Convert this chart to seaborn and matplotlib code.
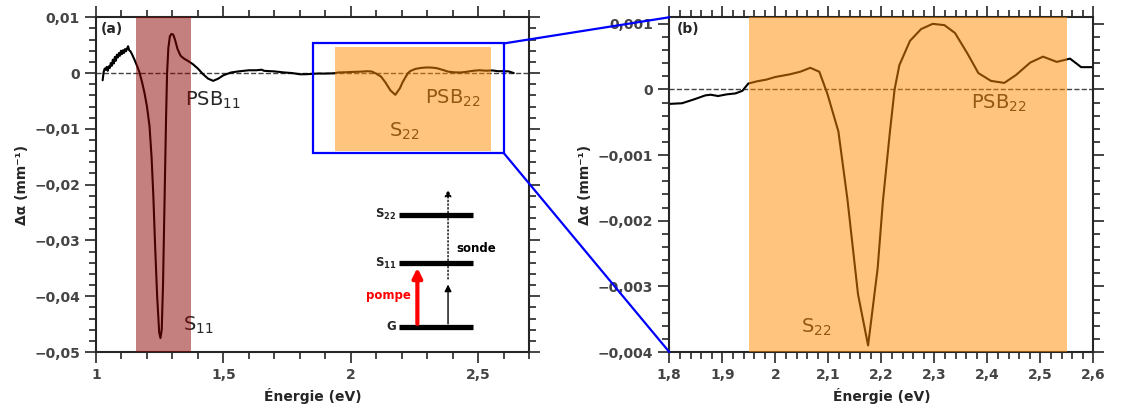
import numpy as np
import pandas as pd
import seaborn as sns
import matplotlib.pyplot as plt
from matplotlib.ticker import MultipleLocator, FuncFormatter
from matplotlib.patches import Rectangle, ConnectionPatch

sns.set_style("ticks")
plt.rcParams['font.family'] = ['DejaVu Sans']

# Spectre de transmission différentielle
energie = [1.026, 1.030, 1.034, 1.038, 1.042, 1.046, 1.050, 1.054, 1.058, 1.062,
           1.066, 1.070, 1.074, 1.078, 1.082, 1.086, 1.090, 1.094, 1.098, 1.102,
           1.106, 1.110, 1.114, 1.118, 1.122, 1.126, 1.130, 1.135, 1.140, 1.150,
           1.160, 1.170, 1.180, 1.190, 1.200, 1.210, 1.218, 1.225, 1.232, 1.240,
           1.248, 1.253, 1.258, 1.263, 1.267, 1.271, 1.275, 1.279, 1.284, 1.290,
           1.296, 1.303, 1.310, 1.320, 1.332, 1.345, 1.360, 1.380, 1.400, 1.420,
           1.440, 1.460, 1.480, 1.500, 1.530, 1.560, 1.600, 1.630, 1.650, 1.660,
           1.700, 1.740, 1.770,
           1.800, 1.824, 1.847, 1.868, 1.878, 1.892, 1.908, 1.925, 1.938, 1.949,
           1.966, 1.983, 2.000, 2.027, 2.047, 2.066, 2.083, 2.098, 2.119, 2.136,
           2.156, 2.175, 2.193, 2.203, 2.216, 2.225, 2.234, 2.254, 2.275, 2.297,
           2.319, 2.339, 2.363, 2.383, 2.407, 2.432, 2.454, 2.481, 2.505, 2.531,
           2.556, 2.577, 2.597, 2.620, 2.640]
delta_alpha = [-0.0013, 0.0002, 0.0008, 0.0006, 0.0011, 0.0004, 0.0012, 0.0009, 0.0018, 0.0013,
               0.0024, 0.0017, 0.0029, 0.0022, 0.0033, 0.0028, 0.0036, 0.0031, 0.0040, 0.0034,
               0.0041, 0.0036, 0.0043, 0.0039, 0.0044, 0.0048, 0.0041, 0.0039, 0.0035, 0.0025,
               0.0014, 0.0002, -0.0015, -0.0035, -0.0060, -0.0095, -0.0150, -0.0220, -0.0310, -0.0400,
               -0.0465, -0.0475, -0.0460, -0.0380, -0.0280, -0.0180, -0.0080, 0.0000, 0.0045, 0.0066,
               0.0070, 0.0069, 0.0060, 0.0043, 0.0031, 0.0026, 0.0022, 0.0016, 0.0008, -0.0002,
               -0.0010, -0.0014, -0.0010, -0.0004, 0.0001, 0.0003, 0.0005, 0.0005, 0.0006, 0.0004,
               0.0003, 0.0001, 0.0000,
               -0.00022, -0.00021, -0.00015, -0.00009, -0.00008, -0.00010, -0.000075, -0.00006, -0.00002, 0.00009,
               0.000125, 0.00015, 0.00019, 0.00023, 0.00027, 0.00033, 0.00027, -0.00006, -0.00064, -0.00167,
               -0.00312, -0.0039, -0.00273, -0.0017, -0.00066, 0.0, 0.00037, 0.00074, 0.00092, 0.0010,
               0.00098, 0.00086, 0.00054, 0.00025, 0.00013, 0.00010, 0.00022, 0.00041, 0.00050, 0.00042,
               0.00047, 0.00034, 0.00034, 0.0003, 0.0]
df = pd.DataFrame({"energie": energie, "delta": delta_alpha})

# Bandes S11 et S22
bande_s11 = (1.157, 1.373)
bande_s22 = (1.95, 2.55)
bande_s22_a = (1.94, 2.55)


def virgule(v, pos):
    v = round(v, 6)
    if v == 0:
        return "0"
    return f"{v:g}".replace(".", ",").replace("-", "\u2212")


fig = plt.figure(figsize=(11.23, 4.12), dpi=100)
ax1 = fig.add_axes([0.0855, 0.1456, 0.3856, 0.8125])
ax2 = fig.add_axes([0.596, 0.1456, 0.3776, 0.8125])

for ax in (ax1, ax2):
    sns.lineplot(data=df, x="energie", y="delta", ax=ax, color="black", lw=1.5, zorder=2)
    ax.axhline(0, color="#444444", ls="--", lw=1, zorder=1)
    ax.tick_params(which="both", direction="out", top=True, right=True, width=1.2,
                   labelcolor="#444444", labelsize=10)
    ax.tick_params(which="major", length=8)
    ax.tick_params(which="minor", length=5)
    for s in ax.spines.values():
        s.set_linewidth(1.5)
    for lab in ax.get_xticklabels() + ax.get_yticklabels():
        lab.set_fontweight("bold")
    ax.xaxis.set_major_formatter(FuncFormatter(virgule))
    ax.yaxis.set_major_formatter(FuncFormatter(virgule))
    ax.set_xlabel("Énergie (eV)", fontsize=10, fontweight="bold")
    ax.set_ylabel("Δα (mm⁻¹)", fontsize=10, fontweight="bold")

# (a)
ax1.set_xlim(1, 2.7)
ax1.set_ylim(-0.05, 0.01)
ax1.xaxis.set_major_locator(MultipleLocator(0.5))
ax1.xaxis.set_minor_locator(MultipleLocator(0.1))
ax1.yaxis.set_major_locator(MultipleLocator(0.01))
ax1.yaxis.set_minor_locator(MultipleLocator(0.002))
ax1.axvspan(*bande_s11, color="darkred", alpha=0.5, lw=0, zorder=3)
ax1.fill_between(bande_s22_a, -0.0139, 0.0047, color="darkorange", alpha=0.5, lw=0, zorder=3)
ax1.add_patch(Rectangle((1.85, -0.0143), 0.75, 0.0196, fill=False, ec="blue", lw=1.6, zorder=4))
ax1.text(0.012, 0.985, "(a)", transform=ax1.transAxes, fontsize=10, fontweight="bold", va="top")
ax1.text(1.35, -0.0059, "PSB$_{11}$", fontsize=14, zorder=2)
ax1.text(1.343, -0.0462, "S$_{11}$", fontsize=14, zorder=2)
ax1.text(2.151, -0.0114, "S$_{22}$", fontsize=14, zorder=2)
ax1.text(2.292, -0.0055, "PSB$_{22}$", fontsize=14, zorder=2)

# schéma des niveaux
niveaux = {"G": -0.04545, "S$_{11}$": -0.0341, "S$_{22}$": -0.02543}
for nom, e in niveaux.items():
    ax1.plot([2.191, 2.479], [e, e], color="black", lw=3.8, solid_capstyle="butt", zorder=5)
    ax1.text(2.18, e, r"$\mathbf{%s}$" % nom.replace("$", "") if nom != "G" else "G",
             ha="right", va="center", fontsize=8.5, fontweight="bold", zorder=5)
ax1.annotate("", xy=(2.2616, -0.0344), xytext=(2.2616, -0.04545),
             arrowprops=dict(arrowstyle="-|>", color="red", lw=3, mutation_scale=14), zorder=5)
ax1.annotate("", xy=(2.382, -0.0374), xytext=(2.382, -0.04545),
             arrowprops=dict(arrowstyle="-|>", color="black", lw=1, mutation_scale=10), zorder=5)
ax1.annotate("", xy=(2.382, -0.0204), xytext=(2.382, -0.0374),
             arrowprops=dict(arrowstyle="-|>", color="black", lw=1, ls=":", mutation_scale=10), zorder=5)
ax1.text(2.148, -0.0398, "pompe", color="red", fontsize=8.5, fontweight="bold",
         ha="center", va="center", zorder=5)
ax1.text(2.416, -0.0314, "sonde", color="black", fontsize=8.5, fontweight="bold",
         ha="left", va="center", zorder=5)

# (b)
ax2.set_xlim(1.8, 2.6)
ax2.set_ylim(-0.004, 0.0011)
ax2.xaxis.set_major_locator(MultipleLocator(0.1))
ax2.xaxis.set_minor_locator(MultipleLocator(0.02))
ax2.yaxis.set_major_locator(MultipleLocator(0.001))
ax2.yaxis.set_minor_locator(MultipleLocator(0.0002))
ax2.axvspan(*bande_s22, color="darkorange", alpha=0.5, lw=0, zorder=3)
ax2.text(0.018, 0.985, "(b)", transform=ax2.transAxes, fontsize=10, fontweight="bold", va="top")
ax2.text(2.37, -0.0003, "PSB$_{22}$", fontsize=14, zorder=2)
ax2.text(2.049, -0.0037, "S$_{22}$", fontsize=14, zorder=2)

# lignes du zoom
for ya, yb in [(0.0053, 0.0011), (-0.0143, -0.004)]:
    con = ConnectionPatch(xyA=(2.6, ya), coordsA=ax1.transData,
                          xyB=(1.8, yb), coordsB=ax2.transData,
                          color="blue", lw=1.6)
    fig.add_artist(con)

fig.savefig("out.png", dpi=100)
